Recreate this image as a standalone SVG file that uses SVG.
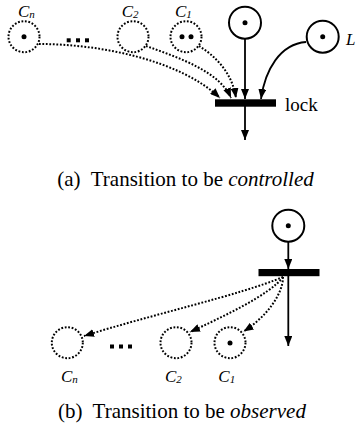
<svg xmlns="http://www.w3.org/2000/svg" width="356" height="431" viewBox="0 0 356 431">
<style>
.place{fill:#fff;stroke:#000;stroke-width:2}
.cplace{fill:#fff;stroke:#000;stroke-width:2;stroke-dasharray:1.8 1.7}
.tok{fill:#000}
.bar{fill:#000}
.arc{fill:none;stroke:#000;stroke-width:1.8}
.darc{fill:none;stroke:#000;stroke-width:2;stroke-dasharray:1.8 1.7}
.lbl{font-family:"Liberation Serif","DejaVu Serif",serif;font-style:italic;font-size:17px}
.sub{font-size:11px}
.txt{font-family:"Liberation Serif","DejaVu Serif",serif;font-size:19px}
.cap{font-family:"Liberation Serif","DejaVu Serif",serif;font-size:21px}
</style>
<defs>
<marker id="ah" viewBox="0 0 10 8" refX="10" refY="4" markerWidth="10" markerHeight="8" markerUnits="userSpaceOnUse" orient="auto">
<path d="M0,0 L10,4 L0,8 Z" fill="#000"/>
</marker>
</defs>

<!-- (a) -->
<g id="a-Cn"><circle class="cplace" cx="24" cy="36.7" r="15.5"/><circle class="tok" cx="24" cy="36.7" r="2.5"/><text class="lbl" x="18" y="16.7">C<tspan class="sub" dy="1">n</tspan></text></g>
<g id="a-dots"><rect x="66.7" y="38.3" width="4" height="4"/><rect x="76" y="38.3" width="4" height="4"/><rect x="85" y="38.3" width="4" height="4"/></g>
<g id="a-C2"><circle class="cplace" cx="133" cy="36.7" r="15.5"/><text class="lbl" x="121.7" y="16.7">C<tspan class="sub" dy="1">2</tspan></text></g>
<g id="a-C1"><circle class="cplace" cx="186" cy="36.7" r="15.5"/><circle class="tok" cx="182" cy="36.7" r="2.5"/><circle class="tok" cx="191" cy="36.7" r="2.5"/><text class="lbl" x="175" y="16.7">C<tspan class="sub" dy="1">1</tspan></text></g>
<g id="a-P"><circle class="place" cx="245" cy="22.7" r="16"/><circle class="tok" cx="245" cy="22.7" r="2.5"/></g>
<g id="a-L"><circle class="place" cx="322.7" cy="36.7" r="16"/><circle class="tok" cx="322.7" cy="36.7" r="2.5"/><text class="lbl" x="346" y="45">L</text></g>
<g id="a-lock"><rect class="bar" x="215" y="99.3" width="61" height="7.4"/><text class="txt" x="285" y="111">lock</text></g>

<!-- (b) -->
<g id="b-P"><circle class="place" cx="288.3" cy="225.7" r="16"/><circle class="tok" cx="288.3" cy="225.7" r="2.5"/></g>
<g id="b-T"><rect class="bar" x="258.5" y="269" width="61" height="7.2"/></g>
<g id="b-Cn"><circle class="cplace" cx="67.3" cy="342.7" r="15.5"/><text class="lbl" x="61" y="381.7">C<tspan class="sub" dy="1">n</tspan></text></g>
<g id="b-dots"><rect x="110" y="344.5" width="4" height="4"/><rect x="119" y="344.5" width="4" height="4"/><rect x="128" y="344.5" width="4" height="4"/></g>
<g id="b-C2"><circle class="cplace" cx="176" cy="342.7" r="15.5"/><text class="lbl" x="165" y="381.7">C<tspan class="sub" dy="1">2</tspan></text></g>
<g id="b-C1"><circle class="cplace" cx="230" cy="342.7" r="15.5"/><circle class="tok" cx="230" cy="343" r="2.5"/><text class="lbl" x="218.3" y="381.7">C<tspan class="sub" dy="1">1</tspan></text></g>

<g id="connectors">
<path class="darc" d="M39,44 C100,44 180,60 220,98" marker-end="url(#ah)"/>
<path class="darc" d="M146,46 C180,58 220,72 231,98" marker-end="url(#ah)"/>
<path class="darc" d="M199,46 C215,56 232,72 236,98" marker-end="url(#ah)"/>
<path class="arc" d="M245,38.7 L245,99" marker-end="url(#ah)"/>
<path class="arc" d="M306,42 C280,44 265,70 261,99" marker-end="url(#ah)"/>
<path class="arc" d="M245,106 L245,140" marker-end="url(#ah)"/>
<path class="arc" d="M288.3,241.7 L288.3,269" marker-end="url(#ah)"/>
<path class="arc" d="M288.3,276 L288.3,346" marker-end="url(#ah)"/>
<path class="darc" d="M283,277 C240,295 150,315 84,336" marker-end="url(#ah)"/>
<path class="darc" d="M283,277 C270,295 220,318 190,332" marker-end="url(#ah)"/>
<path class="darc" d="M283,277 C283,295 265,318 243.5,331.5" marker-end="url(#ah)"/>
</g>

<text class="cap" x="57.3" y="186" xml:space="preserve">(a)  Transition to be <tspan font-style="italic">controlled</tspan></text>
<text class="cap" x="58" y="417.7" xml:space="preserve">(b)  Transition to be <tspan font-style="italic">observed</tspan></text>
</svg>
